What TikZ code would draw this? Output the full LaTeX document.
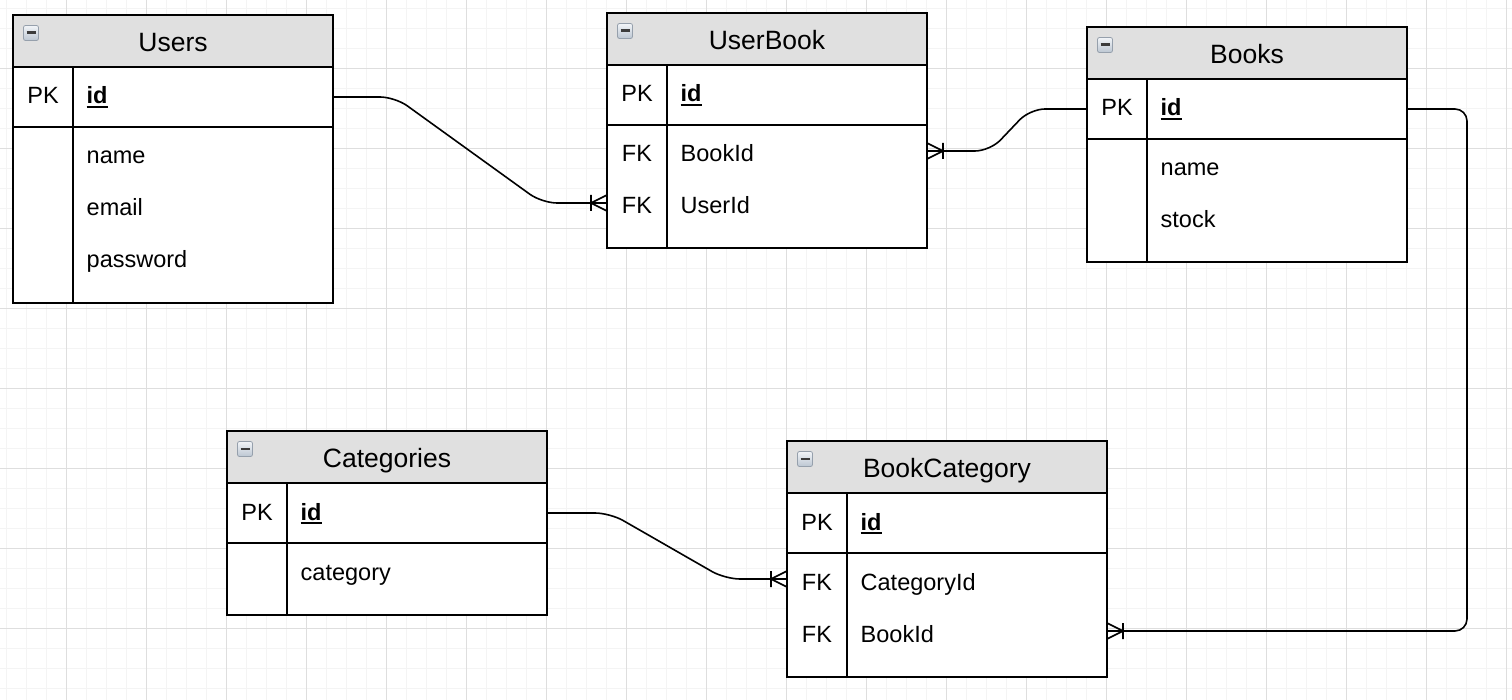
\documentclass[tikz,border=0pt]{standalone}
\usepackage{fontspec}
\setmainfont{Liberation Sans}
\usetikzlibrary{calc}
\definecolor{hdr}{RGB}{224,224,224}
\definecolor{gminor}{RGB}{244,244,244}
\definecolor{gmajor}{RGB}{222,222,222}
\definecolor{iconb}{RGB}{150,160,172}
\definecolor{icontop}{RGB}{242,245,248}
\definecolor{iconbot}{RGB}{188,198,210}
\definecolor{iconminus}{RGB}{60,60,60}
\newcommand\myul[1]{\setbox0\hbox{#1}\rlap{\vrule height -2pt depth 4pt width \wd0}\box0}
\tikzset{
  tline/.style={line width=2.2pt, black},
  conn/.style={line width=1.6pt, black},
  tabbox/.style={draw=black, line width=2.2pt, fill=white, minimum width=320pt, inner sep=0pt, outer sep=0pt, anchor=north west},
  hdrbox/.style={fill=hdr, minimum width=320pt, minimum height=52pt, inner sep=0pt, outer sep=0pt, anchor=north west},
  ttl/.style={font=\fontsize{26.5}{30}\selectfont, inner sep=0pt, anchor=base},
  keytxt/.style={font=\fontsize{23.5}{28}\selectfont, inner sep=0pt, anchor=base},
  fldtxt/.style={font=\fontsize{23.5}{28}\selectfont, inner sep=0pt, anchor=base west},
  rowspan/.style={minimum width=320pt, minimum height=0pt, inner sep=0pt, outer sep=0pt},
  iconbox/.style={draw=iconb, line width=0.8pt, rounded corners=2pt, minimum size=15pt, inner sep=0pt, top color=icontop, bottom color=iconbot},
  crow/.pic={\draw[conn] (-16,-8) -- (-16,8) (-16,0) -- (0,-8) (-16,0) -- (0,8);}
}
% #1 id, #2 left, #3 top, #4 height, #5 title
\newcommand\ertab[5]{%
  \node[tabbox, minimum height=#4pt] (#1) at (#2,#3) {};
  \node[hdrbox] (#1-h) at (#2,#3) {};
  \draw[tline] (#2,{#3+52}) -- ++(320,0) (#2,{#3+112}) -- ++(320,0) ({#2+60},{#3+52}) -- ({#2+60},{#3+#4});
  \draw[tline] (#2,#3) rectangle ++(320,#4);
  \node[ttl] (#1-t) at ({#2+160},{#3+36.5}) {#5};
  \node[iconbox] (#1-i) at ({#2+18},{#3+18}) {};
  \draw[line width=2.4pt, iconminus] ({#2+13.5},{#3+17.7}) -- ({#2+22.5},{#3+17.7});
}
% #1 id, #2 left, #3 baseline, #4 key, #5 field
\newcommand\erfield[5]{%
  \node[keytxt] (#1-k) at ({#2+30},#3) {#4};
  \node[fldtxt] (#1-f) at ({#2+73.5},#3) {#5};
}
% #1 id, #2 left, #3 y
\newcommand\errow[3]{\node[rowspan] (#1) at ({#2+160},#3) {};}
\begin{document}
\begin{tikzpicture}[x=1pt,y=-1pt]
\useasboundingbox (0,0) rectangle (1512,700);
\fill[white] (0,0) rectangle (1512,700);
% grid
\foreach \i in {0,...,75} {\draw[gminor, line width=1pt] ({6.67+20*\i},0) -- ({6.67+20*\i},700);}
\foreach \j in {0,...,34} {\draw[gminor, line width=1pt] (0,{8.33+20*\j}) -- (1512,{8.33+20*\j});}
\foreach \i in {0,...,18} {\draw[gmajor, line width=1pt] ({66.67+80*\i},0) -- ({66.67+80*\i},700);}
\foreach \j in {0,...,8} {\draw[gmajor, line width=1pt] (0,{68.33+80*\j}) -- (1512,{68.33+80*\j});}

% Users
\ertab{users}{13}{15}{288}{Users}
\erfield{users-r1}{13}{104}{PK}{\myul{\textbf{id}}}
\erfield{users-r2}{13}{164}{}{name}
\erfield{users-r3}{13}{216}{}{email}
\erfield{users-r4}{13}{268}{}{password}
\errow{users-id}{13}{97}

% UserBook
\ertab{ub}{607}{13}{235}{UserBook}
\erfield{ub-r1}{607}{102}{PK}{\myul{\textbf{id}}}
\erfield{ub-r2}{607}{162}{FK}{BookId}
\erfield{ub-r3}{607}{214}{FK}{UserId}
\errow{ub-bookid}{607}{151}
\errow{ub-userid}{607}{203}

% Books
\ertab{bk}{1087}{27}{235}{Books}
\erfield{bk-r1}{1087}{116}{PK}{\myul{\textbf{id}}}
\erfield{bk-r2}{1087}{176}{}{name}
\erfield{bk-r3}{1087}{228}{}{stock}
\errow{bk-id}{1087}{109}

% Categories
\ertab{cat}{227}{431}{184}{Categories}
\erfield{cat-r1}{227}{520}{PK}{\myul{\textbf{id}}}
\erfield{cat-r2}{227}{580}{}{category}
\errow{cat-id}{227}{513}

% BookCategory
\ertab{bc}{787}{441}{236}{BookCategory}
\erfield{bc-r1}{787}{530}{PK}{\myul{\textbf{id}}}
\erfield{bc-r2}{787}{590}{FK}{CategoryId}
\erfield{bc-r3}{787}{642}{FK}{BookId}
\errow{bc-catid}{787}{579}
\errow{bc-bookid}{787}{631}

% connectors
\draw[conn, rounded corners=15pt] (users-id.east) -- ++(62,0) -- ($(ub-userid.west)+(-65,0)$) -- (ub-userid.west);
\pic at (ub-userid.west) {crow};
\draw[conn, rounded corners=15pt] (bk-id.west) -- ++(-57,0) -- ($(ub-bookid.east)+(63,0)$) -- (ub-bookid.east);
\pic[xscale=-1] at (ub-bookid.east) {crow};
\draw[conn, rounded corners=12pt] (bk-id.east) -- ++(60,0) |- (bc-bookid.east);
\pic[xscale=-1] at (bc-bookid.east) {crow};
\draw[conn, rounded corners=15pt] (cat-id.east) -- ++(63,0) -- ($(bc-catid.west)+(-62,0)$) -- (bc-catid.west);
\pic at (bc-catid.west) {crow};
\end{tikzpicture}
\end{document}
